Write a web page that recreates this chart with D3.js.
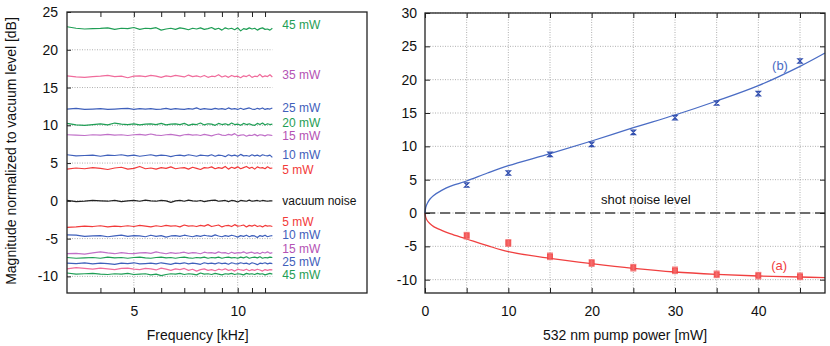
<!DOCTYPE html>
<html><head><meta charset="utf-8">
<script src="https://cdn.jsdelivr.net/npm/d3@7"></script>
<style>
html,body{margin:0;padding:0;background:#fff;}
svg{display:block;font-family:"Liberation Sans",Arial,Helvetica,sans-serif;}
</style></head>
<body><svg id="c" width="830" height="346"></svg>
<script>
// ---------- Left panel data: noise spectra (dB) vs frequency (kHz) ----------
const freq = [3.2,3.4,3.6,3.8,4.0,4.2,4.4,4.6,4.8,5.0,
  5.2,5.4,5.6,5.8,6.0,6.2,6.4,6.6,6.8,7.0,
  7.2,7.4,7.6,7.8,8.0,8.2,8.4,8.6,8.8,9.0,
  9.2,9.4,9.6,9.8,10.0,10.2,10.4,10.6,10.8,11.0,
  11.2,11.4,11.6,11.8,12.0,12.2,12.4,12.6];
const anti45 = [23.05,22.85,22.75,22.8,22.82,22.9,22.7,22.85,22.8,22.95,
  22.7,22.85,22.8,22.92,22.6,22.75,22.85,22.7,22.9,22.8,
  22.65,22.85,22.75,22.9,22.7,22.8,22.95,22.7,22.85,22.6,
  22.9,22.75,22.85,22.65,22.9,22.5,22.8,22.7,22.9,22.75,
  22.85,22.6,22.8,22.9,22.7,22.75,22.6,22.85];
const anti35 = [16.55,16.4,16.35,16.45,16.5,16.6,16.45,16.5,16.3,16.5,
  16.55,16.45,16.6,16.5,16.35,16.55,16.45,16.6,16.5,16.4,
  16.65,16.45,16.55,16.4,16.6,16.35,16.5,16.45,16.7,16.4,
  16.55,16.35,16.6,16.45,16.5,16.3,16.55,16.45,16.65,16.35,
  16.5,16.45,16.75,16.4,16.55,16.45,16.7,16.4];
const anti25 = [12.15,12.25,12.1,12.15,12.2,12.1,12.15,12.2,12.25,12.1,
  12.2,12.15,12.2,12.1,12.15,12.25,12.1,12.2,12.15,12.1,
  12.2,12.15,12.3,12.1,12.2,12.15,12.1,12.25,12.15,12.2,
  12.1,12.3,12.15,12.2,12.1,12.25,12.1,12.2,12.3,12.15,
  12.1,12.25,12.15,12.3,12.1,12.2,12.15,12.3];
const anti20 = [10.25,10.05,10.0,10.1,10.2,10.05,10.3,10.15,10.1,10.2,
  10.05,10.15,10.2,10.1,10.25,10.05,10.15,10.2,10.1,10.25,
  10.0,10.15,10.1,10.3,10.05,10.2,10.15,10.0,10.25,10.1,
  10.2,10.05,10.3,10.1,10.15,10.0,10.25,10.1,10.2,10.05,
  10.0,10.25,10.1,10.3,10.05,10.2,10.1,10.15];
const anti15 = [8.75,8.7,8.65,8.75,8.7,8.8,8.7,8.75,8.65,8.75,
  8.8,8.7,8.85,8.7,8.65,8.75,8.8,8.7,8.6,8.75,
  8.8,8.7,8.75,8.65,8.8,8.7,8.6,8.75,8.85,8.7,
  8.65,8.8,8.7,8.9,8.6,8.7,8.75,8.55,8.7,8.65,
  8.8,8.6,8.75,8.7,8.6,8.75,8.7,8.65];
const anti10 = [6.1,5.95,6.0,6.05,5.9,6.05,6.0,6.1,5.95,6.05,
  5.9,6.0,6.1,5.95,6.05,6.0,5.85,6.0,6.05,5.95,
  6.1,6.0,5.9,6.05,6.0,5.95,6.1,5.9,6.05,6.0,
  5.85,6.1,5.95,6.05,5.9,6.15,5.95,6.0,5.9,6.1,
  5.95,6.05,5.9,6.1,6.0,5.95,6.05,5.75];
const anti5 = [4.2,4.35,4.25,4.4,4.3,4.15,4.35,4.45,4.2,4.3,
  4.55,4.25,4.35,4.2,4.4,4.3,4.5,4.25,4.35,4.4,
  4.2,4.45,4.3,4.15,4.4,4.35,4.5,4.25,4.4,4.3,
  4.55,4.2,4.45,4.3,4.5,4.25,4.4,4.55,4.3,4.45,
  4.2,4.5,4.35,4.4,4.25,4.5,4.3,4.35];
const vacuum = [0.05,-0.1,-0.05,0.05,0.0,-0.05,0.05,-0.1,0.0,0.05,
  -0.05,0.1,0.0,-0.05,0.05,0.0,-0.2,0.0,0.05,-0.05,
  0.1,0.0,-0.05,0.05,-0.1,0.0,0.05,0.1,-0.05,0.0,
  0.05,-0.1,0.05,0.0,-0.15,0.05,0.0,-0.05,0.1,-0.05,
  0.0,0.05,-0.05,0.05,0.0,-0.05,0.0,0.0];
const sq5 = [-3.5,-3.45,-3.35,-3.4,-3.3,-3.45,-3.35,-3.4,-3.3,-3.4,
  -3.25,-3.35,-3.45,-3.3,-3.4,-3.25,-3.35,-3.3,-3.45,-3.2,
  -3.35,-3.3,-3.4,-3.25,-3.35,-3.15,-3.4,-3.3,-3.2,-3.45,
  -3.3,-3.25,-3.4,-3.15,-3.35,-3.3,-3.2,-3.45,-3.25,-3.35,
  -3.2,-3.4,-3.3,-3.45,-3.25,-3.35,-3.3,-3.4];
const sq10 = [-4.5,-4.55,-4.7,-4.65,-4.6,-4.75,-4.65,-4.55,-4.7,-4.6,
  -4.65,-4.75,-4.55,-4.7,-4.6,-4.8,-4.65,-4.6,-4.7,-4.55,
  -4.65,-4.75,-4.6,-4.7,-4.55,-4.65,-4.7,-4.5,-4.65,-4.75,
  -4.6,-4.7,-4.55,-4.65,-4.8,-4.6,-4.7,-4.55,-4.75,-4.6,
  -4.65,-4.85,-4.6,-4.7,-4.55,-4.75,-4.65,-4.6];
const sq15 = [-7.0,-6.95,-7.05,-6.9,-6.75,-6.9,-7.0,-6.85,-6.95,-7.0,
  -6.9,-6.85,-6.95,-6.75,-6.9,-7.0,-6.85,-6.95,-6.9,-6.8,
  -6.95,-6.85,-6.9,-7.0,-6.8,-6.9,-6.85,-6.95,-6.75,-6.9,
  -6.85,-7.0,-6.8,-6.95,-6.85,-6.9,-6.75,-6.95,-6.85,-6.8,
  -6.95,-6.85,-7.0,-6.8,-6.9,-6.75,-6.95,-6.85];
const sq20 = [-7.5,-7.6,-7.55,-7.5,-7.6,-7.45,-7.55,-7.5,-7.6,-7.5,
  -7.45,-7.55,-7.6,-7.5,-7.45,-7.55,-7.5,-7.6,-7.5,-7.45,
  -7.55,-7.6,-7.5,-7.55,-7.45,-7.6,-7.5,-7.55,-7.45,-7.6,
  -7.5,-7.45,-7.55,-7.5,-7.6,-7.45,-7.55,-7.4,-7.6,-7.5,
  -7.45,-7.55,-7.4,-7.6,-7.5,-7.55,-7.45,-7.5];
const sq25 = [-8.25,-8.3,-8.2,-8.35,-8.25,-8.3,-8.4,-8.25,-8.3,-8.2,
  -8.35,-8.3,-8.25,-8.35,-8.2,-8.3,-8.4,-8.25,-8.3,-8.2,
  -8.35,-8.25,-8.3,-8.4,-8.2,-8.3,-8.25,-8.35,-8.2,-8.3,
  -8.25,-8.4,-8.2,-8.3,-8.35,-8.2,-8.3,-8.25,-8.4,-8.2,
  -8.3,-8.45,-8.25,-8.3,-8.2,-8.35,-8.25,-8.3];
const sq35 = [-9.0,-8.85,-8.95,-9.05,-8.9,-9.0,-9.1,-8.95,-8.9,-9.05,
  -9.1,-8.95,-9.0,-9.15,-8.9,-9.05,-9.2,-9.0,-9.1,-8.95,
  -9.2,-9.05,-9.3,-9.1,-9.0,-9.2,-9.1,-9.25,-9.05,-9.15,
  -9.0,-9.2,-9.1,-9.3,-9.05,-9.15,-9.2,-9.05,-9.25,-9.1,
  -9.2,-9.05,-9.15,-9.3,-9.1,-9.2,-9.1,-9.15];
const sq45 = [-9.55,-9.7,-9.65,-9.6,-9.7,-9.75,-9.65,-9.7,-9.6,-9.75,
  -9.7,-9.65,-9.8,-9.7,-9.9,-9.75,-9.65,-9.7,-9.6,-9.75,
  -9.65,-9.7,-9.8,-9.55,-9.7,-9.65,-9.75,-9.6,-9.7,-9.8,
  -9.65,-9.7,-9.6,-9.75,-9.65,-9.7,-9.8,-9.6,-9.7,-9.65,
  -9.75,-9.6,-9.7,-9.65,-9.8,-9.7,-9.6,-9.7];

const leftTicksY = [-10,-5,0,5,10,15,20,25];
const leftTicksX = [4,5,6,7,8,9,10,11,12];
const leftLabelsX = [5,10];

// ---------- Right panel data ----------
const pump = [5,10,15,20,25,30,35,40,45];
const antiSqueezing = [4.2,6.0,8.8,10.3,12.1,14.3,16.5,17.9,22.8];   // (b)
const squeezing = [-3.4,-4.5,-6.5,-7.5,-8.2,-8.6,-9.2,-9.4,-9.5];     // (a)
const fitPump = [0,0.1,0.3,0.6,1,2,3,5,7.5,10,15,20,25,30,35,40,45,48];
const fitB = [0,0.9,1.5,2.1,2.6,3.4,4.0,4.8,6.0,7.1,8.9,10.8,12.8,14.7,16.8,19.1,22.0,24.0];
const fitA = [0,-0.7,-1.2,-1.6,-2.0,-2.6,-3.1,-3.9,-4.9,-5.8,-6.8,-7.6,-8.3,-8.85,-9.2,-9.45,-9.6,-9.7];
const rightTicksY = [-10,-5,0,5,10,15,20,25,30];
const rightTicksX = [0,5,10,15,20,25,30,35,40,45];

// ---------- styles ----------
const GREEN="#1f9e55", PINK="#f06c9c", PURPLE="#b452b4", PURPLE_T="#c070c8", BLUE="#3f60bb", RED="#f23a3a";
const traces = [
  {v:anti45,c:GREEN},{v:anti35,c:PINK},{v:anti25,c:BLUE},{v:anti20,c:GREEN},
  {v:anti15,c:PURPLE_T},{v:anti10,c:BLUE},{v:anti5,c:RED},{v:vacuum,c:"#222"},
  {v:sq5,c:RED},{v:sq10,c:BLUE},{v:sq15,c:PURPLE_T},{v:sq20,c:GREEN},
  {v:sq25,c:BLUE},{v:sq35,c:PINK},{v:sq45,c:GREEN}];
const labels = [
  {t:"45 mW",c:GREEN,y:22.74},{t:"35 mW",c:PURPLE,y:16.12},{t:"25 mW",c:BLUE,y:11.76},
  {t:"20 mW",c:GREEN,y:9.8},{t:"15 mW",c:PURPLE,y:8.0},{t:"10 mW",c:BLUE,y:5.53},
  {t:"5 mW",c:RED,y:3.55},{t:"vacuum noise",c:"#111",y:-0.56},
  {t:"5 mW",c:RED,y:-3.3},{t:"10 mW",c:BLUE,y:-5.06},{t:"15 mW",c:PURPLE,y:-6.91},
  {t:"25 mW",c:BLUE,y:-8.63},{t:"45 mW",c:GREEN,y:-10.35}];

const svg = d3.select("#c");
const FS = 14;

// ================= LEFT PANEL =================
const xL = d3.scaleLog().domain([3.2,23.7]).range([67,367]);
const yL = d3.scaleLinear().domain([-12.2,25]).range([293,12]);
const gL = svg.append("g");
const dataEnd = xL(d3.max(freq));

// grid
gL.selectAll(".hg").data(leftTicksY.filter(d=>d<25)).join("line")
  .attr("x1",xL.range()[0]).attr("x2",dataEnd).attr("y1",d=>yL(d)).attr("y2",d=>yL(d))
  .attr("stroke","#9a9a9a").attr("stroke-width",0.8).attr("stroke-dasharray","1,1.5");
gL.selectAll(".vg").data(leftLabelsX).join("line")
  .attr("x1",d=>xL(d)).attr("x2",d=>xL(d)).attr("y1",yL.range()[0]).attr("y2",yL.range()[1])
  .attr("stroke","#9a9a9a").attr("stroke-width",0.8).attr("stroke-dasharray","1,1.5");

// traces
const lineL = d3.line().x(d=>xL(d[0])).y(d=>yL(d[1]));
traces.forEach(tr=>{
  const pts = tr.v.map((v,i)=>[freq[i],v]).filter(d=>d[0]!==undefined);
  gL.append("path").attr("d",lineL(pts)).attr("fill","none")
    .attr("stroke",tr.c).attr("stroke-width",1.2).attr("stroke-linejoin","round");
});

// axes
function styleAxis(g){
  g.select(".domain").remove();
  g.selectAll(".tick line").attr("stroke","#222").attr("stroke-width",1);
  g.selectAll(".tick text").attr("font-size",FS).attr("fill","#111")
    .attr("font-family","Liberation Sans, Arial, sans-serif");
}
gL.append("g").attr("transform",`translate(${xL.range()[0]},0)`)
  .call(d3.axisLeft(yL).tickValues(leftTicksY).tickSize(-4).tickPadding(9).tickFormat(d=>String(d)))
  .call(styleAxis);
gL.append("g").attr("transform",`translate(0,${yL.range()[0]})`)
  .call(d3.axisBottom(xL).tickValues(leftTicksX).tickSize(-5).tickPadding(13)
    .tickFormat(d=>leftLabelsX.includes(d)?String(d):""))
  .call(styleAxis);
gL.append("g").attr("transform",`translate(0,${yL.range()[1]})`)
  .call(d3.axisTop(xL).tickValues(leftTicksX).tickSize(-5).tickFormat(""))
  .call(styleAxis);
gL.append("rect").attr("x",xL.range()[0]).attr("y",yL.range()[1])
  .attr("width",xL.range()[1]-xL.range()[0]).attr("height",yL.range()[0]-yL.range()[1])
  .attr("fill","none").attr("stroke","#222").attr("stroke-width",1.3);

// labels
gL.selectAll(".lab").data(labels).join("text")
  .attr("x",dataEnd+10).attr("y",d=>yL(d.y)).text(d=>d.t)
  .attr("fill",d=>d.c).attr("font-size",12);

gL.append("text").attr("x",(xL(5)+xL(10))/2+12).attr("y",340)
  .attr("text-anchor","middle").attr("font-size",FS).attr("fill","#111").text("Frequency [kHz]");
gL.append("text").attr("transform","translate(16,151) rotate(-90)")
  .attr("text-anchor","middle").attr("font-size",FS).attr("fill","#111")
  .text("Magnitude normalized to vacuum level [dB]");

// ================= RIGHT PANEL =================
const xR = d3.scaleLinear().domain([0,48]).range([425,825]);
const yR = d3.scaleLinear().domain([-12,30]).range([293,13]);
const gR = svg.append("g");

gR.selectAll(".hg").data(rightTicksY).join("line")
  .attr("x1",xR.range()[0]).attr("x2",xR.range()[1]).attr("y1",d=>yR(d)).attr("y2",d=>yR(d))
  .attr("stroke","#9a9a9a").attr("stroke-width",0.8).attr("stroke-dasharray","1,1.5");
gR.selectAll(".vg").data(rightTicksX.filter(d=>d>0)).join("line")
  .attr("x1",d=>xR(d)).attr("x2",d=>xR(d)).attr("y1",yR.range()[0]).attr("y2",yR.range()[1])
  .attr("stroke","#9a9a9a").attr("stroke-width",0.8).attr("stroke-dasharray","1,1.5");

// shot noise level dashed line
gR.append("line").attr("x1",xR.range()[0]).attr("x2",xR.range()[1])
  .attr("y1",yR(0)).attr("y2",yR(0)).attr("stroke","#6e6e6e").attr("stroke-width",2.2)
  .attr("stroke-dasharray","10,5");

// fit curves
const lineR = d3.line().x(d=>xR(d[0])).y(d=>yR(d[1])).curve(d3.curveCatmullRom.alpha(0.5));
gR.append("path").attr("d",lineR(fitPump.map((p,i)=>[p,fitB[i]])))
  .attr("fill","none").attr("stroke","#4a6cc4").attr("stroke-width",1.3);
gR.append("path").attr("d",lineR(fitPump.map((p,i)=>[p,fitA[i]])))
  .attr("fill","none").attr("stroke","#f04040").attr("stroke-width",1.3);

// data markers (b): bow-tie error markers
const mB = gR.selectAll(".mb").data(pump.map((p,i)=>[p,antiSqueezing[i]])).join("g")
  .attr("transform",d=>`translate(${xR(d[0])},${yR(d[1])})`);
mB.append("path").attr("d","M-2.2,-2.2H2.2L-2.2,2.2H2.2Z").attr("fill","none")
  .attr("stroke","#3350b0").attr("stroke-width",1.2);
// data markers (a)
const mA = gR.selectAll(".ma").data(pump.map((p,i)=>[p,squeezing[i]])).join("g")
  .attr("transform",d=>`translate(${xR(d[0])},${yR(d[1])})`);
mA.append("rect").attr("x",-2.5).attr("y",-2.5).attr("width",5).attr("height",5)
  .attr("fill","#f46060").attr("stroke","#f04040").attr("stroke-width",0.8);
mA.append("path").attr("d","M-3,-3.3H3M-3,3.3H3M0,-3.3V3.3").attr("stroke","#f47070").attr("stroke-width",1);

// axes
gR.append("g").attr("transform",`translate(${xR.range()[0]},0)`)
  .call(d3.axisLeft(yR).tickValues(rightTicksY).tickSize(-5).tickPadding(8).tickFormat(d=>String(d)))
  .call(styleAxis);
gR.append("g").attr("transform",`translate(${xR.range()[1]},0)`)
  .call(d3.axisRight(yR).tickValues(rightTicksY).tickSize(-5).tickFormat(""))
  .call(styleAxis);
gR.append("g").attr("transform",`translate(0,${yR.range()[0]})`)
  .call(d3.axisBottom(xR).tickValues(rightTicksX).tickSize(-5).tickPadding(13)
    .tickFormat(d=>d%10===0?String(d):""))
  .call(styleAxis);
gR.append("g").attr("transform",`translate(0,${yR.range()[1]})`)
  .call(d3.axisTop(xR).tickValues(rightTicksX).tickSize(-5).tickFormat(""))
  .call(styleAxis);
gR.append("rect").attr("x",xR.range()[0]).attr("y",yR.range()[1])
  .attr("width",xR.range()[1]-xR.range()[0]).attr("height",yR.range()[0]-yR.range()[1])
  .attr("fill","none").attr("stroke","#222").attr("stroke-width",1.3);

gR.append("text").attr("x",xR(26.5)).attr("y",yR(1.3)).attr("text-anchor","middle")
  .attr("font-size",13).attr("fill","#111").text("shot noise level");
gR.append("text").attr("x",xR(42.6)).attr("y",yR(21.4)).attr("text-anchor","middle")
  .attr("font-size",13).attr("fill","#4a6cc4").text("(b)");
gR.append("text").attr("x",xR(42.5)).attr("y",yR(-8.5)).attr("text-anchor","middle")
  .attr("font-size",13).attr("fill","#f04040").text("(a)");
gR.append("text").attr("x",625).attr("y",340).attr("text-anchor","middle")
  .attr("font-size",FS).attr("fill","#111").text("532 nm pump power [mW]");
</script></body></html>
